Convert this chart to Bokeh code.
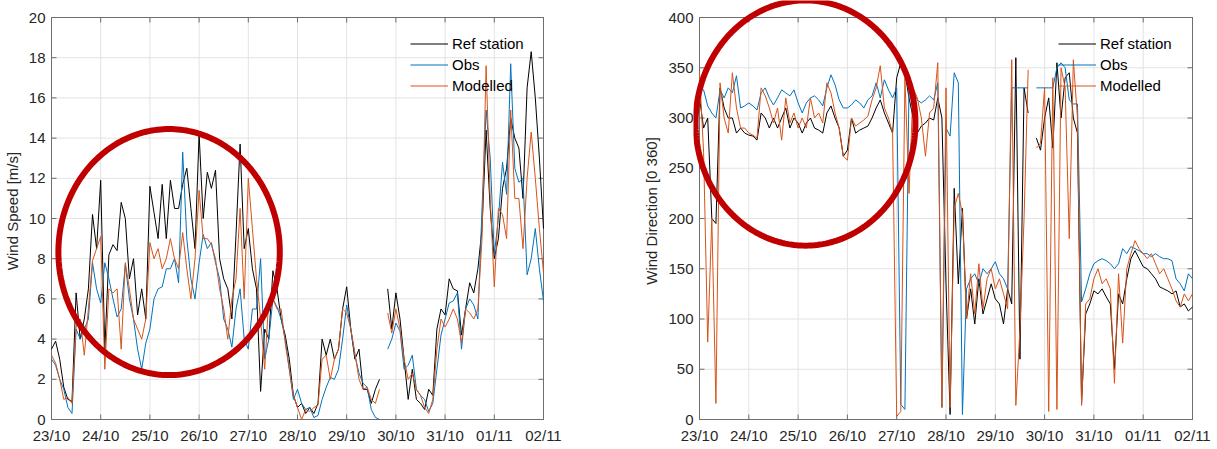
import numpy as np
from bokeh.plotting import figure
from bokeh.models import (Range1d, FixedTicker, Legend, LegendItem, PolyAnnotation)
from bokeh.layouts import row
from bokeh.embed import file_html
from bokeh.resources import INLINE

nan = float("nan")

# ---------------- data ----------------
day_ticks = list(range(11))
day_labels = ["23/10", "24/10", "25/10", "26/10", "27/10", "28/10",
              "29/10", "30/10", "31/10", "01/11", "02/11"]
hours = list(range(0, 241, 2))          # 2-hourly samples from 23/10 00:00
t_days = [h / 24 for h in hours]

speed_ticks = list(range(0, 21, 2))
dir_ticks = list(range(0, 401, 50))

speed_ref = [
    3.5, 3.9, 3.0, 1.6, 1.0, 0.9, 6.3, 4.0, 5.0, 6.5, 10.2, 8.5,
    11.9, 3.5, 8.2, 8.7, 8.4, 10.8, 10.0, 7.0, 8.0, 5.2, 6.5, 5.0,
    11.6, 10.3, 9.0, 11.7, 9.0, 11.9, 10.5, 10.5, 11.7, 12.5, 10.5, 8.5,
    14.2, 10.0, 12.3, 11.5, 12.4, 8.0, 7.0, 6.5, 5.0, 9.2, 13.7, 8.5,
    9.5, 7.5, 6.5, 1.4, 4.5, 4.0, 7.4, 6.5, 5.0, 4.2, 3.0, 1.2,
    0.6, 0.8, 0.3, 0.6, 0.3, 0.8, 4.0, 3.2, 4.0, 3.0, 3.5, 5.5,
    6.6, 4.5, 3.0, 3.5, 1.5, 1.5, 0.8, 1.5, 2.0, nan, 6.5, 4.5,
    6.3, 5.0, 3.0, 1.0, 2.5, 1.0, 0.8, 0.5, 1.5, 1.2, 4.5, 5.5,
    5.2, 7.0, 6.5, 6.4, 4.2, 5.5, 6.8, 6.3, 7.5, 9.5, 14.4, 10.5,
    8.0, 9.0, 11.5, 12.5, 15.0, 14.0, 13.5, 11.0, 16.5, 18.3, 16.0, 13.0, 9.5]

speed_obs = [
    3.0, 2.7, 2.0, 1.5, 0.6, 0.3, 4.5, 4.0, 4.5, 5.0, 7.8, 6.5,
    5.8, 7.8, 7.0, 6.0, 5.1, 5.5, 7.7, 6.0, 5.0, 3.5, 2.5, 3.8,
    4.5, 6.0, 6.5, 6.6, 7.5, 7.5, 8.0, 6.8, 13.3, 9.0, 7.0, 6.0,
    7.8, 9.2, 8.5, 8.8, 7.8, 7.0, 5.0, 4.5, 3.6, 5.5, 6.5, 4.0,
    3.5, 5.5, 5.5, 8.0, 3.0, 4.0, 6.0, 5.6, 5.0, 4.0, 2.5, 1.0,
    1.5, 0.8, 0.5, 0.6, 0.1, 0.2, 1.0, 1.6, 2.1, 2.0, 2.5, 4.0,
    5.7, 4.5, 3.2, 2.3, 1.8, 1.6, 0.5, 0.1, 0.0, nan, 3.5, 4.0,
    4.8, 4.4, 2.5, 2.7, 3.2, 1.5, 1.2, 1.0, 0.4, 0.8, 2.5, 4.2,
    5.0, 5.8, 5.9, 6.3, 3.5, 5.5, 6.0, 5.7, 5.0, 10.5, 15.4, 13.0,
    8.2, 10.0, 12.8, 11.2, 17.7, 12.5, 11.8, 12.0, 7.2, 8.0, 9.5, 7.5, 5.9]

speed_mod = [
    3.2, 2.8, 2.0, 1.0, 1.1, 0.8, 4.6, 5.0, 3.2, 5.5, 7.9, 8.5,
    9.1, 2.5, 6.5, 6.3, 6.5, 3.5, 7.8, 6.5, 5.0, 4.5, 4.0, 5.0,
    8.8, 8.0, 8.5, 7.5, 8.0, 9.0, 8.0, 7.5, 9.3, 7.5, 6.0, 8.0,
    11.4, 9.0, 9.0, 8.7, 8.0, 6.5, 5.5, 4.0, 6.0, 7.0, 10.5, 6.0,
    12.0, 9.5, 7.0, 5.0, 2.5, 6.0, 6.0, 5.5, 5.5, 3.8, 2.5, 1.2,
    0.6, 0.0, 0.5, 0.4, 0.6, 0.7, 3.0, 3.2, 2.0, 3.0, 3.5, 5.5,
    5.3, 4.5, 3.3, 2.0, 1.5, 1.6, 1.0, 0.8, 1.5, nan, 5.3, 4.3,
    5.5, 4.5, 3.0, 2.0, 2.3, 1.5, 1.2, 0.6, 0.3, 1.0, 3.5, 5.0,
    4.6, 5.0, 5.5, 5.0, 3.8, 5.5, 5.3, 5.0, 5.5, 9.0, 17.6, 11.0,
    6.6, 10.5, 10.2, 9.0, 15.4, 11.0, 11.0, 8.5, 12.0, 14.3, 12.0, 9.5, 7.3]

dir_ref = [
    320, 290, 300, 200, 195, 330, 310, 300, 300, 285, 290, 285,
    283, 282, 278, 305, 300, 290, 300, 290, 300, 310, 290, 300,
    295, 285, 295, 300, 290, 288, 285, 305, 312, 300, 290, 262,
    268, 300, 285, 288, 290, 292, 300, 310, 318, 305, 295, 285,
    340, 355, 345, 320, 300, 285, 292, 295, 300, 298, 320, 300,
    135, 5, 230, 135, 210, 100, 130, 95, 140, 105, 120, 135,
    120, 115, 95, 130, 115, 360, 60, 330, 305, nan, 280, 268,
    300, 320, 270, 355, 300, 340, 345, 300, 285, 16, 105, 115,
    128, 125, 130, 122, 115, 50, 125, 115, 140, 160, 168, 160,
    152, 150, 145, 140, 132, 130, 128, 125, 128, 112, 115, 108, 112]

dir_obs = [
    330, 328, 312, 305, 300, 328, 320, 330, 325, 342, 310, 312,
    315, 312, 308, 325, 330, 320, 313, 320, 328, 325, 322, 328,
    315, 305, 315, 320, 322, 318, 312, 330, 343, 333, 318, 310,
    310, 313, 318, 315, 310, 318, 322, 335, 320, 338, 328, 320,
    330, 15, 10, 335, 328, 318, 315, 318, 322, 318, 335, 12,
    290, 282, 345, 335, 5, 130, 140, 145, 135, 150, 145, 150,
    157, 145, 140, 130, 330, 330, 330, 330, 330, nan, 330, 330,
    330, 330, 330, 350, 355, 350, 318, 314, 314, 117, 130, 145,
    155, 158, 160, 158, 155, 150, 155, 170, 165, 172, 170, 168,
    165, 165, 162, 165, 162, 160, 160, 158, 140, 135, 128, 145, 140]

dir_mod = [
    345, 266, 77, 200, 16, 335, 300, 285, 345, 310, 290, 290,
    285, 283, 280, 330, 322, 310, 295, 310, 278, 320, 295, 305,
    290, 300, 290, 320, 300, 305, 295, 335, 325, 305, 290, 262,
    258, 300, 292, 295, 298, 302, 318, 330, 352, 310, 300, 285,
    3, 8, 340, 225, 330, 320, 300, 262, 305, 310, 355, 12,
    330, 12, 210, 225, 205, 100, 145, 105, 155, 110, 140, 150,
    130, 140, 125, 110, 358, 14, 90, 200, 348, nan, 270, 275,
    330, 8, 340, 10, 350, 330, 180, 358, 300, 14, 115, 120,
    140, 150, 135, 140, 130, 36, 145, 76, 150, 165, 178, 170,
    165, 160, 165, 155, 145, 150, 140, 130, 118, 112, 125, 118, 125]

series_names = ["Ref station", "Obs", "Modelled"]
series_colors = ["#000000", "#0072BD", "#D95319"]

# highlight ellipses (centre x [days], centre y, half-width [days], half-height)
ellipse_speed = (2.39, 8.33, 2.25, 6.12)
ellipse_dir = (2.15, 295.0, 2.23, 122.0)

# ---------------- styling ----------------
FONT = "Liberation Sans"
FS = "15px"
AX = "#6e6e6e"
TXT = "#262626"
GRID = "#e3e3e3"
RED = "#C00000"
BOX_H = 402          # pixel height of the data box
BOX_TOP = 17         # pixel row of the top of the data box
PAD_T = 17           # frame extends this far above the box (ellipse room)
PAD_B = 2
PAD_R = 2
TICK_PX = 5


def make_fig(ylabel, y_end, yticks, box_w, box_left, fig_w, pad_l, fig_h=449):
    """Frame is slightly larger than the data box so the highlight ellipse
    can run over the box edge; the box, grid and ticks are drawn as glyphs."""
    px_x = box_w / 10.0
    px_y = BOX_H / y_end
    frame_w = box_w + pad_l + PAD_R
    frame_h = BOX_H + PAD_T + PAD_B
    border_l = box_left - pad_l
    border_t = BOX_TOP - PAD_T
    p = figure(frame_width=frame_w, frame_height=frame_h,
               min_border_left=border_l, min_border_right=fig_w - border_l - frame_w,
               min_border_top=border_t, min_border_bottom=fig_h - border_t - frame_h,
               x_range=Range1d(-pad_l / px_x, 10 + PAD_R / px_x),
               y_range=Range1d(-PAD_B / px_y, y_end + PAD_T / px_y),
               toolbar_location=None, output_backend="svg",
               background_fill_color="white", border_fill_color="white")
    p.outline_line_color = None
    p.xgrid.visible = False
    p.ygrid.visible = False

    xa = p.xaxis[0]
    xa.ticker = FixedTicker(ticks=day_ticks)
    xa.major_label_overrides = {d: lab for d, lab in zip(day_ticks, day_labels)}
    ya = p.yaxis[0]
    ya.ticker = FixedTicker(ticks=yticks)
    ya.axis_label = ylabel
    for ax in (xa, ya):
        ax.axis_line_color = None
        ax.major_tick_line_color = None
        ax.minor_tick_line_color = None
        ax.major_tick_in = 0
        ax.major_tick_out = 0
        ax.minor_tick_in = 0
        ax.minor_tick_out = 0
        ax.major_label_text_font = FONT
        ax.major_label_text_font_size = FS
        ax.major_label_text_color = TXT
        ax.axis_label_text_font = FONT
        ax.axis_label_text_font_size = FS
        ax.axis_label_text_font_style = "normal"
        ax.axis_label_text_color = TXT
    xa.major_label_standoff = 7 - PAD_B
    ya.major_label_standoff = max(0, 6 - pad_l)
    ya.axis_label_standoff = 5

    nx, ny = len(day_ticks), len(yticks)
    # grid
    p.segment(x0=day_ticks, y0=[0] * nx, x1=day_ticks, y1=[y_end] * nx,
              line_color=GRID, line_width=1)
    p.segment(x0=[0] * ny, y0=yticks, x1=[10] * ny, y1=yticks,
              line_color=GRID, line_width=1)
    # box
    p.segment(x0=[0, 10, 0, 0], y0=[0, 0, 0, y_end],
              x1=[0, 10, 10, 10], y1=[y_end, y_end, 0, y_end],
              line_color=AX, line_width=1)
    # inward ticks on all four sides
    dx = TICK_PX / px_x
    dy = TICK_PX / px_y
    p.segment(x0=day_ticks + day_ticks, y0=[0] * nx + [y_end] * nx,
              x1=day_ticks + day_ticks, y1=[dy] * nx + [y_end - dy] * nx,
              line_color=AX, line_width=1)
    p.segment(x0=[0] * ny + [10] * ny, y0=yticks + yticks,
              x1=[dx] * ny + [10 - dx] * ny, y1=yticks + yticks,
              line_color=AX, line_width=1)
    return p


def add_series(p, values_list, loc):
    items = []
    for name, col, vals in zip(series_names, series_colors, values_list):
        r = p.line(t_days, vals, line_color=col, line_width=1)
        items.append(LegendItem(label=name, renderers=[r]))
    leg = Legend(items=items, location=loc, padding=0, margin=0,
                 spacing=0, glyph_width=38, glyph_height=21, label_height=21,
                 label_standoff=4, border_line_color=None,
                 background_fill_alpha=0, label_text_font=FONT,
                 label_text_font_size=FS, label_text_color="black")
    p.add_layout(leg)


def add_ellipse(p, ell):
    cx, cy, rx, ry = ell
    a = np.linspace(0, 2 * np.pi, 240, endpoint=False)
    xs = list(cx + rx * np.cos(a))
    ys = list(cy + ry * np.sin(a))
    p.add_layout(PolyAnnotation(xs=xs, ys=ys, xs_units="data", ys_units="data",
                                fill_alpha=0, line_color=RED, line_alpha=1.0,
                                line_width=6))


p1 = make_fig("Wind Speed [m/s]", 20, speed_ticks, box_w=492, box_left=51,
              fig_w=603, pad_l=2)
add_series(p1, [speed_ref, speed_obs, speed_mod], (361, 325))
add_ellipse(p1, ellipse_speed)

p2 = make_fig("Wind Direction [0 360]", 400, dir_ticks, box_w=493, box_left=96,
              fig_w=614, pad_l=6)
add_series(p2, [dir_ref, dir_obs, dir_mod], (365, 325))
add_ellipse(p2, ellipse_dir)

layout = row(p1, p2)
open("out.html", "w").write(file_html(layout, INLINE))
